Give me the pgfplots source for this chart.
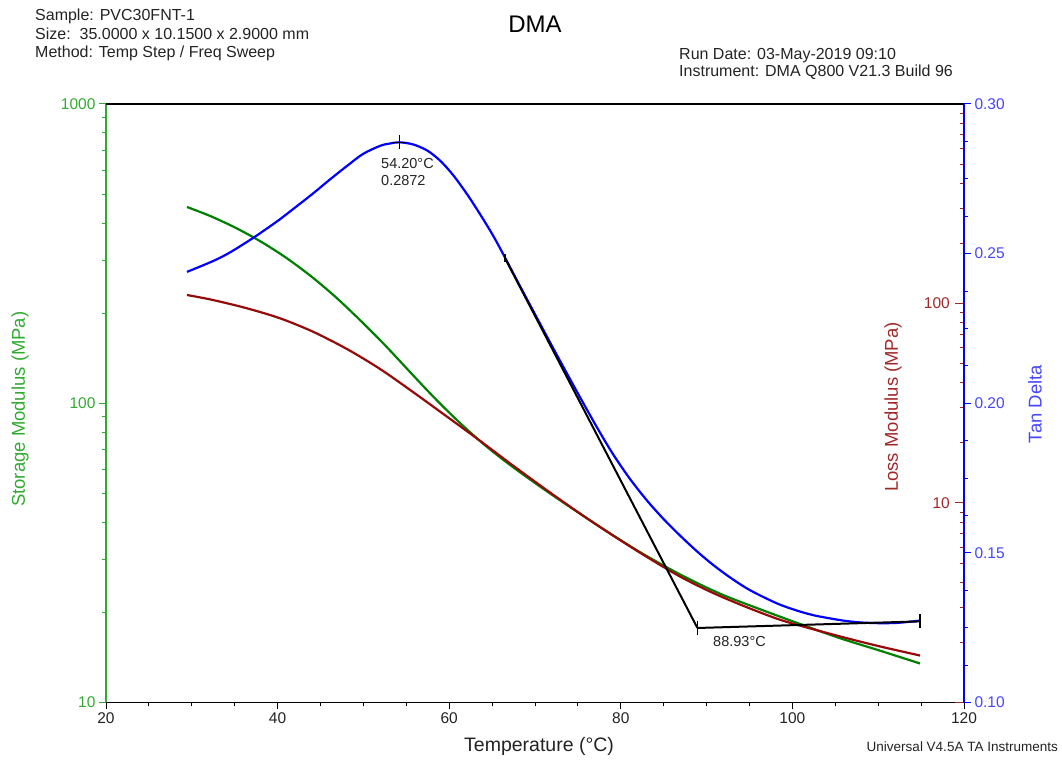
\documentclass[border=0pt]{standalone}
\usepackage{fontspec}
\setmainfont{Liberation Sans}
\usepackage{pgfplots}
\pgfplotsset{compat=1.18}

\definecolor{egreen}{RGB}{0,128,0}
\definecolor{agreen}{RGB}{50,170,50}
\definecolor{lred}{RGB}{150,10,10}
\definecolor{lbrown}{RGB}{160,40,40}
\definecolor{tblue}{RGB}{0,0,255}
\definecolor{tlblue}{RGB}{70,70,255}
\definecolor{hdr}{RGB}{35,35,35}

\newcommand\labfont{\fontsize{18.5}{21}\selectfont}

\pgfplotsset{
  dmaframe/.style={
    scale only axis, width=858pt, height=598.5pt,
    at={(106pt,57.5pt)}, anchor=south west,
    xmin=20, xmax=120,
    /pgf/number format/assume math mode=true,
    /pgf/number format/1000 sep={},
    tick label style={font=\fontsize{15.5}{17}\selectfont},
  },
}

\begin{document}
\begin{tikzpicture}
\useasboundingbox (0,0) rectangle (1062pt,760pt);

% Storage modulus (left, log)
\begin{axis}[dmaframe,
  ymode=log, ymin=10, ymax=1000,
  log ticks with fixed point,
  axis x line*=bottom, axis y line*=left,
  x axis line style={-, black, line width=1.4pt},
  y axis line style={-, agreen, line width=1.6pt},
  xtick={20,40,60,80,100,120}, minor x tick num=3,
  ytick={10,100,1000},
  tick align=outside, major tick length=7pt, minor tick length=4pt,
  xtick style={black, line width=1pt},
  ytick style={agreen, line width=1pt},
  yticklabel style={text=agreen},
  xticklabel style={text=hdr},
  xlabel={Temperature (°C)},
  every axis x label/.style={at={(axis description cs:0.5047,-0.0827)}, anchor=base, text=hdr, font=\fontsize{19.5}{22}\selectfont},
  ylabel={Storage Modulus (MPa)},
  every axis y label/.style={at={(axis description cs:-0.1002,0.49)}, rotate=90, anchor=center, text=agreen, font=\labfont},
]
\addplot[egreen, line width=2.2pt, smooth] coordinates {
  (29.44,452.7) (32.12,422.7) (35.03,386.7) (37.93,348.5) (40.86,308.2)
  (43.78,267.3) (46.69,227.4) (49.60,189.7) (52.52,156.3) (55.43,127.2)
  (58.34,103.8) (61.26,85.9) (64.17,72.4) (67.09,62.2) (70.58,52.7)
  (74.08,45.0) (77.58,38.6) (82.24,31.8) (86.90,26.8) (91.56,23.1)
  (96.22,20.5) (100.89,18.3) (105.55,16.4) (110.21,14.9) (114.87,13.5)
};
\end{axis}

% Loss modulus (right, log, ticks and labels inside)
\begin{axis}[dmaframe,
  ymode=log, ymin=1, ymax=1000,
  hide x axis, axis line style={draw=none},
  ytick pos=right, yticklabel pos=right,
  ytick={1,10,100,1000}, yticklabels={{},10,100,{}},
  minor ytick={2,3,4,5,6,7,8,9,20,30,40,50,60,70,80,90,200,300,400,500,600,700,800,900},
  tick align=inside, major tick length=9pt, minor tick length=4pt,
  tick style={lbrown, line width=1pt},
  minor tick style={lbrown, line width=1pt},
  yticklabel style={text=lbrown, anchor=east, inner sep=0pt, xshift=-14pt},
  ylabel={Loss Modulus (MPa)},
  every axis y label/.style={at={(axis description cs:0.9173,0.4937)}, rotate=90, anchor=center, text=lbrown, font=\labfont},
]
\addplot[lred, line width=2.2pt, smooth] coordinates {
  (29.44,110.3) (32.47,104.1) (36.43,94.6) (40.28,84.3) (44.13,72.2)
  (48.09,59.1) (51.93,47.0) (55.78,36.0) (59.74,27.1) (63.59,20.5)
  (67.44,15.4) (71.40,11.57) (75.24,8.86) (79.09,6.87) (83.05,5.36)
  (86.90,4.28) (90.75,3.54) (94.71,3.00) (98.55,2.60) (102.40,2.33)
  (106.36,2.10) (110.21,1.91) (114.87,1.72)
};
\end{axis}

% Tan delta (right, linear)
\begin{axis}[dmaframe,
  ymin=0.10, ymax=0.30, clip=false,
  axis x line=none, axis y line*=right,
  y axis line style={-, tblue, line width=1.6pt},
  ytick={0.10,0.15,0.20,0.25,0.30}, minor y tick num=3,
  ytick align=outside, major tick length=7pt, minor tick length=4pt,
  tick style={tblue, line width=1pt},
  minor tick style={tblue, line width=1pt},
  yticklabel style={text=tlblue, /pgf/number format/.cd, fixed, fixed zerofill, precision=2},
  ylabel={Tan Delta},
  every axis y label/.style={at={(axis description cs:1.0828,0.4988)}, rotate=90, anchor=center, text=tlblue, font=\labfont},
]
\draw[black, line width=1.4pt] (rel axis cs:0,1) -- (rel axis cs:1,1);
\addplot[tblue, line width=2.2pt, smooth] coordinates {
  (29.44,0.2439) (32.47,0.2475) (34.45,0.2504) (37.02,0.2550) (38.76,0.2584)
  (40.28,0.2615) (42.26,0.2659) (44.13,0.2701) (46.11,0.2748) (48.09,0.2793)
  (49.95,0.2833) (51.93,0.2860) (53.10,0.2868) (54.20,0.2872) (55.78,0.2865)
  (57.41,0.2845) (58.93,0.2811) (60.44,0.2763) (62.07,0.2699) (63.59,0.2632)
  (65.10,0.2561) (66.50,0.2487) (68.37,0.2385) (70.23,0.2285) (72.10,0.2185)
  (74.90,0.2038) (77.23,0.1919) (79.09,0.1830) (81.07,0.1747) (83.05,0.1675)
  (84.92,0.1615) (86.90,0.1558) (88.88,0.1505) (90.75,0.1460) (92.73,0.1418)
  (94.71,0.1381) (96.57,0.1353) (98.55,0.1327) (100.54,0.1307) (102.40,0.1292)
  (104.38,0.1281) (106.36,0.1272) (108.23,0.1267) (110.21,0.1265) (112.19,0.1266)
  (114.06,0.1271) (114.87,0.1274)
};
% onset construction: tangent and baseline
\addplot[black, line width=2pt] coordinates {(66.50,0.2485) (88.93,0.1249)};
\addplot[black, line width=2pt] coordinates {(88.93,0.1249) (114.87,0.1271)};
\addplot[black, line width=1.5pt, only marks, mark=|, mark size=7pt] coordinates {(88.93,0.1249) (114.87,0.1271)};
\addplot[black, line width=1.5pt, only marks, mark=|, mark size=4pt] coordinates {(66.50,0.2485)};
% tan delta peak
\addplot[black, line width=1.5pt, only marks, mark=+, mark size=7pt] coordinates {(54.20,0.2872)};
\node[anchor=base west, text=hdr, font=\fontsize{14.5}{17}\selectfont, inner sep=0pt] at (axis cs:52.05,0.2786) {54.20°C};
\node[anchor=base west, text=hdr, font=\fontsize{14.5}{17}\selectfont, inner sep=0pt] at (axis cs:52.05,0.2729) {0.2872};
\node[anchor=base west, text=hdr, font=\fontsize{14.5}{17}\selectfont, inner sep=0pt] at (axis cs:90.75,0.1187) {88.93°C};
\end{axis}

% header and footer
\begin{scope}[every node/.style={inner sep=0pt, text=hdr}]
\node[anchor=base west, font=\fontsize{16}{19}\selectfont] at (35pt,739pt) {Sample: PVC30FNT-1};
\node[anchor=base west, font=\fontsize{16}{19}\selectfont] at (35pt,720.5pt) {Size:\ \ 35.0000 x 10.1500 x 2.9000 mm};
\node[anchor=base west, font=\fontsize{16}{19}\selectfont] at (35pt,702pt) {Method: Temp Step / Freq Sweep};
\node[anchor=base west, font=\fontsize{16}{19}\selectfont] at (679pt,700pt) {Run Date: 03-May-2019 09:10};
\node[anchor=base west, font=\fontsize{16}{19}\selectfont] at (679pt,683pt) {Instrument: DMA Q800 V21.3 Build 96};
\node[anchor=base, font=\fontsize{24}{28}\selectfont, text=black] at (535pt,727pt) {DMA};
\node[anchor=base east, font=\fontsize{13.5}{16}\selectfont] at (1058pt,8.5pt) {Universal V4.5A TA Instruments};
\end{scope}
\end{tikzpicture}
\end{document}
